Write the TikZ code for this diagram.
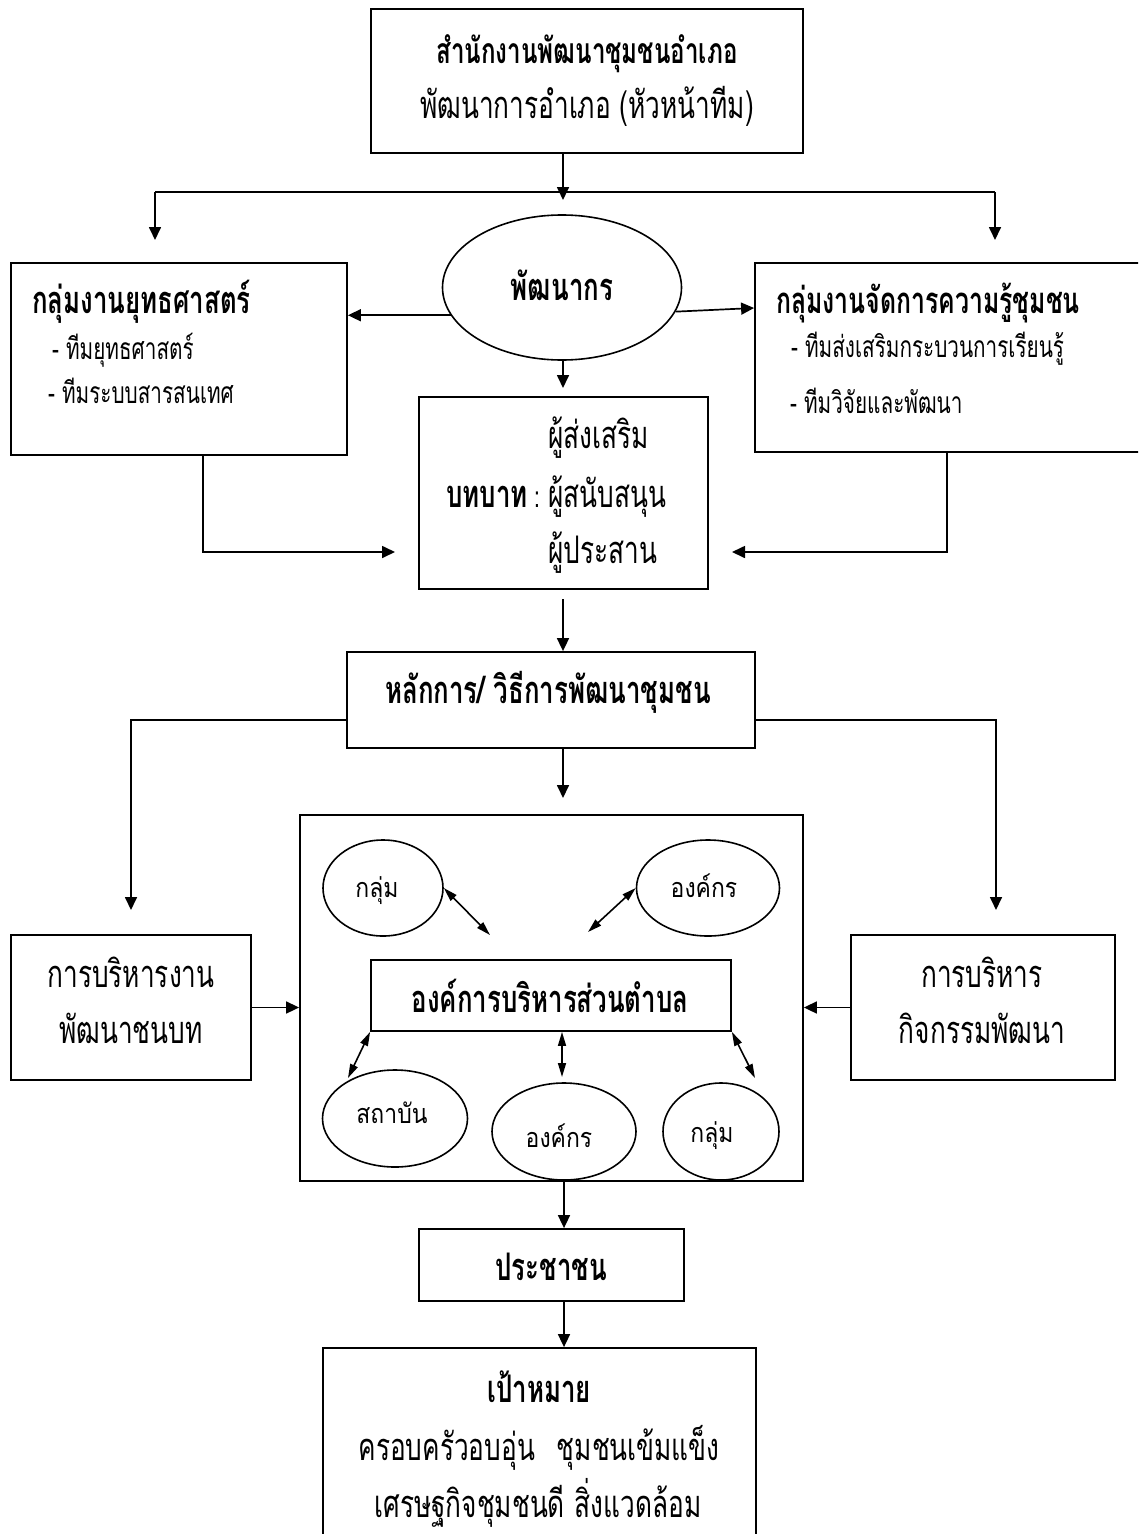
\documentclass[tikz,border=0pt]{standalone}
\usepackage{fontspec}
\newfontfamily\thai[Script=Thai,FakeStretch=0.69]{Loma}
\newfontfamily\thaiB[Script=Thai,FakeStretch=0.68]{Loma}
\newfontfamily\thaiW[Script=Thai,FakeStretch=0.85]{Loma}
\usetikzlibrary{arrows.meta,shapes.geometric}
\newcommand\fM{\thai\fontsize{38}{40}\selectfont}
\newcommand\fB{\thaiB\fontsize{38}{40}\selectfont\bfseries}
\newcommand\fS{\thai\fontsize{30}{31}\selectfont}
\newcommand\fC{\thaiW\fontsize{27}{28}\selectfont}
\begin{document}
\begin{tikzpicture}[x=1pt,y=-1pt,
  box/.style={draw, line width=1.8pt, rectangle, inner sep=0pt},
  oval/.style={draw, line width=1.6pt, ellipse, inner sep=0pt},
  ln/.style={line width=1.7pt},
  arr/.style={line width=1.7pt, -{Triangle[length=13pt,width=12pt]}},
  dbl/.style={line width=1.6pt, {Triangle[length=14pt,width=8pt]}-{Triangle[length=14pt,width=8pt]}},
  tm/.style={inner sep=0pt, font=\fM},
  tmb/.style={inner sep=0pt, font=\fB},
  ts/.style={inner sep=0pt, font=\fS},
  tc/.style={inner sep=0pt, font=\fC}
]
\useasboundingbox (0,0) rectangle (1138,1534);
\clip (0,0) rectangle (1138,1534);

% ---------- boxes ----------
\node[box, minimum width=432pt, minimum height=144pt] (top) at (587,81) {};
\node[box, minimum width=336pt, minimum height=192pt] (lbox) at (179,359) {};
\node[box, minimum width=390pt, minimum height=189pt] (rbox) at (950,357.5) {};
\node[oval, minimum width=239pt, minimum height=145pt] (pk) at (562,287.5) {};
\node[box, minimum width=289pt, minimum height=192pt] (role) at (563.5,493) {};
\node[box, minimum width=408pt, minimum height=96pt] (princ) at (551,700) {};
\node[box, minimum width=503pt, minimum height=366pt] (big) at (551.5,998) {};
\node[box, minimum width=240pt, minimum height=145pt] (lm) at (131,1007.5) {};
\node[box, minimum width=264pt, minimum height=145pt] (rm) at (983,1007.5) {};
\node[box, minimum width=360pt, minimum height=71pt] (tambon) at (551,995.5) {};
\node[oval, minimum width=120pt, minimum height=96pt] (g1) at (383,888) {};
\node[oval, minimum width=143pt, minimum height=96pt] (o1) at (708,888) {};
\node[oval, minimum width=145pt, minimum height=97pt] (s) at (395,1118.5) {};
\node[oval, minimum width=144pt, minimum height=97pt] (o2) at (564,1131.5) {};
\node[oval, minimum width=116pt, minimum height=97pt] (g2) at (721,1131.5) {};
\node[box, minimum width=265pt, minimum height=72pt] (people) at (551.5,1265) {};
\node[box, minimum width=433pt, minimum height=200pt] (goal) at (539.5,1448) {};

% ---------- texts ----------
\node[tmb, anchor=base, font=\fB\fontsize{35.5}{37}\selectfont] (t1) at (587,63) {สำนักงานพัฒนาชุมชนอำเภอ};
\node[tm, anchor=base] (t2) at (587,118) {พัฒนาการอำเภอ (หัวหน้าทีม)};
\node[tmb, anchor=base] (pkt) at (562,300) {พัฒนากร};
\node[tmb, anchor=base west] (lh) at (32,313) {กลุ่มงานยุทธศาสตร์};
\node[ts, anchor=base west] (l1) at (52,359) {- ทีมยุทธศาสตร์};
\node[ts, anchor=base west] (l2) at (48,403) {- ทีมระบบสารสนเทศ};
\node[tmb, anchor=base west, font=\fB\fontsize{36.5}{38}\selectfont] (rh) at (776,313) {กลุ่มงานจัดการความรู้ชุมชน};
\node[ts, anchor=base west] (r1) at (791,357) {- ทีมส่งเสริมกระบวนการเรียนรู้};
\node[ts, anchor=base west] (r2) at (790,413) {- ทีมวิจัยและพัฒนา};
\node[tm, anchor=base west] (ro1) at (548,448) {ผู้ส่งเสริม};
\node[tmb, anchor=base east] (ro0) at (528,507) {บทบาท};
\node[ts, anchor=base] (roc) at (537,507) {:};
\node[tm, anchor=base west] (ro2) at (548,507) {ผู้สนับสนุน};
\node[tm, anchor=base west] (ro3) at (548,563) {ผู้ประสาน};
\node[tmb, anchor=base] (pt) at (548,703) {หลักการ/ วิธีการพัฒนาชุมชน};
\node[tmb, anchor=base] (tt) at (550,1012) {องค์การบริหารส่วนตำบล};
\node[tc, anchor=base] (g1t) at (377,897) {กลุ่ม};
\node[tc, anchor=base] (o1t) at (704,897) {องค์กร};
\node[tc, anchor=base] (st) at (392,1123) {สถาบัน};
\node[tc, anchor=base] (o2t) at (559,1147) {องค์กร};
\node[tc, anchor=base] (g2t) at (712,1142) {กลุ่ม};
\node[tm, anchor=base] (lm1) at (131,987) {การบริหารงาน};
\node[tm, anchor=base] (lm2) at (131,1043) {พัฒนาชนบท};
\node[tm, anchor=base] (rm1) at (982,987) {การบริหาร};
\node[tm, anchor=base] (rm2) at (982,1043) {กิจกรรมพัฒนา};
\node[tmb, anchor=base] (ppt) at (551,1280) {ประชาชน};
\node[tmb, anchor=base] (gt) at (539,1402) {เป้าหมาย};
\node[tm, anchor=base] (g2l) at (539,1460) {ครอบครัวอบอุ่น\hspace{22pt}ชุมชนเข้มแข็ง};
\node[tm, anchor=base] (g3l) at (538,1517) {เศรษฐกิจชุมชนดี\hspace{10pt}สิ่งแวดล้อม};

% ---------- free ends ----------
\coordinate (hub) at (563,200);
\coordinate (hl) at (155,192);
\coordinate (hr) at (995,192);
\coordinate (lt) at (155,240);
\coordinate (rt) at (995,240);
\coordinate (pkd) at (563,388);
\coordinate (la) at (395,552);
\coordinate (ra) at (732,552);
\coordinate (rs) at (563,599);
\coordinate (ld) at (131,910);
\coordinate (rd) at (996,910);
\coordinate (bd) at (563,798);
\coordinate (g1e) at (490,935);
\coordinate (o1e) at (588,932);
\coordinate (se) at (348,1078);
\coordinate (oe) at (562,1077);
\coordinate (ge) at (755,1078);

% ---------- connectors ----------
\draw[arr] (top.south -| hub) -- (hub);
\draw[ln] (hl) -- (hr);
\draw[arr] (hl) -- (lt);
\draw[arr] (hr) -- (rt);
\draw[arr] (pk.194) -- (pk.194 -| lbox.east);
\draw[arr] (pk.-12) -- (rbox.west |- 0,308);
\draw[arr] (pk.south -| pkd) -- (pkd);
\draw[arr] (lbox.south -| 203,0) |- (la);
\draw[arr] (rbox.south -| 947,0) |- (ra);
\draw[arr] (rs) -- (princ.north -| rs);
\draw[arr] (princ.west |- 0,720) -| (ld);
\draw[arr] (princ.east |- 0,720) -| (rd);
\draw[arr] (princ.south -| bd) -- (bd);
\draw[arr] (lm.east) -- (big.west |- lm.east);
\draw[arr] (rm.west) -- (big.east |- rm.west);
\draw[dbl] (g1.east) -- (g1e);
\draw[dbl] (o1.west) -- (o1e);
\draw[dbl] (tambon.south west) -- (se);
\draw[dbl] (tambon.south -| oe) -- (oe);
\draw[dbl] (tambon.south east) -- (ge);
\draw[arr] (big.south -| 564,0) -- (people.north -| 564,0);
\draw[arr] (people.south -| 564,0) -- (goal.north -| 564,0);
\end{tikzpicture}
\end{document}
